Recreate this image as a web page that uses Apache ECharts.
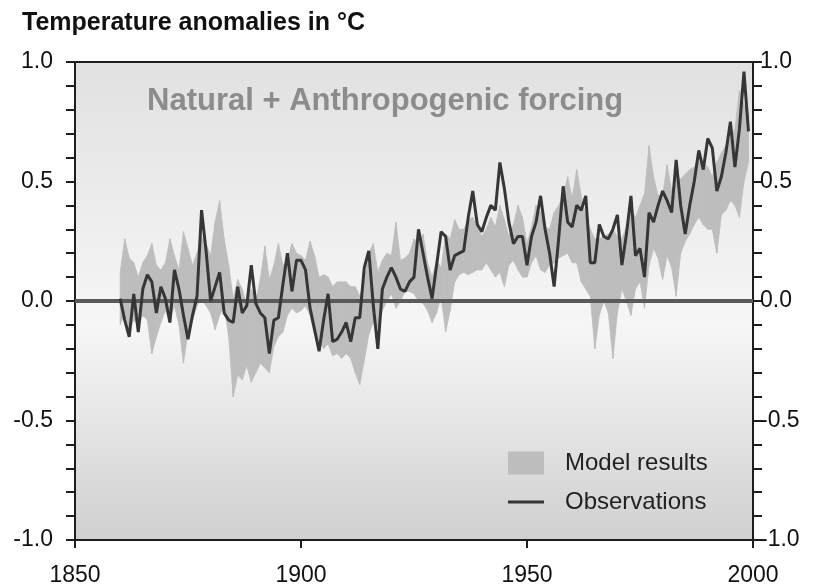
<!DOCTYPE html>
<html>
<head>
<meta charset="utf-8">
<script src="https://cdn.jsdelivr.net/npm/echarts@6/dist/echarts.min.js"></script>
<style>
  html, body { margin: 0; padding: 0; background: #ffffff; }
  #chart { width: 817px; height: 587px; }
</style>
</head>
<body>
<div id="chart"></div>
<script>
// Global mean temperature anomalies (°C), annual values from 1860 to 1999
const firstYear = 1860;

const observations = [
   0.01, -0.08, -0.15,  0.03, -0.13,  0.05,  0.11,  0.08, -0.05,  0.06,   // 1860s
   0.01, -0.09,  0.13,  0.05, -0.06, -0.16, -0.06,  0.02,  0.38,  0.21,   // 1870s
   0.00,  0.06,  0.12, -0.05, -0.08, -0.09,  0.06, -0.05, -0.02,  0.15,   // 1880s
  -0.01, -0.05, -0.07, -0.22, -0.08, -0.07,  0.07,  0.20,  0.04,  0.17,   // 1890s
   0.17,  0.13, -0.03, -0.12, -0.21, -0.08,  0.03, -0.17, -0.16, -0.13,   // 1900s
  -0.09, -0.17, -0.07, -0.07,  0.14,  0.21, -0.02, -0.20,  0.05,  0.10,   // 1910s
   0.14,  0.10,  0.05,  0.04,  0.08,  0.10,  0.30,  0.20,  0.10,  0.01,   // 1920s
   0.15,  0.29,  0.27,  0.13,  0.19,  0.20,  0.21,  0.35,  0.46,  0.32,   // 1930s
   0.29,  0.35,  0.40,  0.38,  0.58,  0.47,  0.33,  0.24,  0.27,  0.27,   // 1940s
   0.15,  0.27,  0.33,  0.44,  0.30,  0.20,  0.06,  0.26,  0.48,  0.33,   // 1950s
   0.31,  0.40,  0.38,  0.44,  0.16,  0.16,  0.32,  0.27,  0.26,  0.30,   // 1960s
   0.36,  0.15,  0.28,  0.44,  0.19,  0.22,  0.10,  0.37,  0.33,  0.40,   // 1970s
   0.46,  0.42,  0.37,  0.59,  0.40,  0.28,  0.40,  0.50,  0.63,  0.55,   // 1980s
   0.68,  0.64,  0.46,  0.52,  0.62,  0.75,  0.56,  0.72,  0.96,  0.71    // 1990s
];

// Spread of the model ensemble (natural + anthropogenic forcing)
const modelLow = [
  -0.10, -0.05, -0.12, -0.08, -0.10, -0.06, -0.08, -0.22, -0.15, -0.09,
  -0.04, -0.08, -0.02, -0.10, -0.26, -0.13, -0.08, -0.02,  0.01, -0.02,
  -0.05, -0.12, -0.06, -0.02, -0.15, -0.40, -0.31, -0.33, -0.27, -0.34,
  -0.30, -0.26, -0.28, -0.30, -0.19, -0.15, -0.13, -0.06, -0.03, -0.05,
  -0.04, -0.02, -0.06, -0.14, -0.17, -0.20, -0.18, -0.23, -0.22, -0.24,
  -0.22, -0.24, -0.30, -0.35, -0.25, -0.14, -0.09, -0.11, -0.04,  0.00,
   0.03, -0.03,  0.00,  0.04,  0.04,  0.03,  0.00, -0.01, -0.04, -0.09,
  -0.05,  0.02, -0.13, -0.04,  0.08,  0.11,  0.12,  0.11,  0.12,  0.13,
   0.13,  0.16,  0.13,  0.10,  0.12,  0.06,  0.15,  0.17,  0.13,  0.10,
   0.10,  0.16,  0.19,  0.13,  0.12,  0.15,  0.16,  0.18,  0.19,  0.20,
   0.16,  0.16,  0.08,  0.05,  0.02, -0.20, -0.06,  0.00, -0.05, -0.24,
  -0.05,  0.05,  0.00, -0.06,  0.05,  0.08, -0.03,  0.15,  0.22,  0.18,
   0.09,  0.19,  0.14,  0.02,  0.20,  0.25,  0.28,  0.32,  0.35,  0.32,
   0.30,  0.30,  0.20,  0.36,  0.38,  0.42,  0.40,  0.35,  0.50,  0.58
];

const modelHigh = [
   0.12,  0.26,  0.18,  0.16,  0.10,  0.16,  0.19,  0.24,  0.15,  0.13,
   0.16,  0.26,  0.19,  0.13,  0.29,  0.22,  0.15,  0.20,  0.27,  0.24,
   0.19,  0.33,  0.42,  0.26,  0.15,  0.01,  0.09,  0.05, -0.02,  0.05,
   0.00,  0.09,  0.23,  0.09,  0.15,  0.24,  0.15,  0.17,  0.24,  0.20,
   0.19,  0.17,  0.25,  0.19,  0.10,  0.11,  0.10,  0.06,  0.08,  0.08,
   0.08,  0.06,  0.06,  0.02,  0.08,  0.20,  0.24,  0.12,  0.17,  0.20,
   0.19,  0.33,  0.17,  0.18,  0.20,  0.26,  0.24,  0.28,  0.16,  0.10,
   0.17,  0.14,  0.28,  0.26,  0.34,  0.30,  0.30,  0.34,  0.35,  0.31,
   0.27,  0.30,  0.35,  0.31,  0.40,  0.34,  0.27,  0.32,  0.40,  0.35,
   0.24,  0.31,  0.40,  0.37,  0.31,  0.30,  0.37,  0.40,  0.44,  0.52,
   0.43,  0.55,  0.44,  0.35,  0.30,  0.26,  0.26,  0.27,  0.28,  0.30,
   0.27,  0.26,  0.31,  0.38,  0.35,  0.40,  0.45,  0.65,  0.52,  0.44,
   0.44,  0.57,  0.46,  0.52,  0.51,  0.53,  0.55,  0.56,  0.58,  0.58,
   0.56,  0.52,  0.58,  0.62,  0.65,  0.68,  0.72,  0.88,  0.82,  0.78
];

const years = observations.map((_, i) => firstYear + i);
const yearTicks = [1850, 1900, 1950, 2000];
const anomalyTicks = [-1.0, -0.5, 0.0, 0.5, 1.0];

const sans = "'Liberation Sans', Arial, sans-serif";
const inkColor = '#1e1e1e';
const bandColor = '#bdbdbd';

const obsData = years.map((y, i) => [y, observations[i]]);
// each item: year, low, high — one band segment is drawn from an item to the next
const bandData = years.map((y, i) => [y, modelLow[i], modelHigh[i]]);

function renderBandSegment(params, api) {
  const i = params.dataIndex;
  if (i >= bandData.length - 1) return null;
  const a = bandData[i], b = bandData[i + 1];
  const pts = [
    api.coord([a[0], a[1]]),
    api.coord([a[0], a[2]]),
    api.coord([b[0], b[2]]),
    api.coord([b[0], b[1]])
  ];
  return {
    type: 'polygon',
    shape: { points: pts },
    style: { fill: bandColor, stroke: bandColor, lineWidth: 0.8 },
    silent: true
  };
}

function yAxisFor(position, margin) {
  return {
    type: 'value',
    position: position,
    min: anomalyTicks[0],
    max: anomalyTicks[anomalyTicks.length - 1],
    interval: 0.5,
    axisLine: { show: true, onZero: false, lineStyle: { color: inkColor, width: 2 } },
    axisTick: { show: true, length: 9, lineStyle: { color: inkColor, width: 2 } },
    minorTick: { show: true, splitNumber: 5, length: 9, lineStyle: { color: inkColor, width: 2 } },
    splitLine: { show: false },
    axisLabel: {
      margin: margin,
      color: '#111',
      fontFamily: sans,
      fontSize: 23,
      formatter: v => v.toFixed(1)
    }
  };
}

const chart = echarts.init(document.getElementById('chart'), null, { renderer: 'canvas' });

chart.setOption({
  animation: false,
  backgroundColor: '#ffffff',
  title: [
    {
      text: 'Temperature anomalies in °C',
      left: 17, top: 6,
      textStyle: { fontFamily: sans, fontWeight: 'bold', fontSize: 25, color: '#111' }
    },
    {
      text: 'Natural + Anthropogenic forcing',
      left: 142, top: 81,
      textStyle: { fontFamily: sans, fontWeight: 'bold', fontSize: 31, color: '#8c8c8c' }
    }
  ],
  grid: {
    left: 75, right: 64, top: 62, bottom: 46,
    show: true,
    borderWidth: 2,
    borderColor: inkColor,
    backgroundColor: {
      type: 'linear', x: 0, y: 0, x2: 0, y2: 1,
      colorStops: [
        { offset: 0, color: '#e1e1e1' },
        { offset: 0.55, color: '#f6f6f6' },
        { offset: 1, color: '#d0d0d0' }
      ]
    }
  },
  legend: {
    orient: 'vertical',
    left: 503, top: 446,
    itemWidth: 36, itemHeight: 23, itemGap: 15,
    selectedMode: false,
    textStyle: { fontFamily: sans, fontSize: 24, color: '#222', padding: [0, 0, 0, 16] },
    data: [
      { name: 'Model results', icon: 'rect', itemStyle: { color: bandColor } },
      { name: 'Observations', icon: 'path://M0 0H36V3H0Z' }
    ]
  },
  xAxis: {
    type: 'value',
    min: yearTicks[0],
    max: yearTicks[yearTicks.length - 1],
    interval: 50,
    axisLine: { show: true, onZero: false, lineStyle: { color: inkColor, width: 2 } },
    axisTick: { show: true, length: 8, lineStyle: { color: inkColor, width: 2 } },
    splitLine: { show: false },
    axisLabel: { margin: 24, color: '#111', fontFamily: sans, fontSize: 23, formatter: v => String(v) }
  },
  yAxis: [yAxisFor('left', 22), yAxisFor('right', 7)],
  series: [
    {
      name: 'Model results',
      type: 'custom',
      renderItem: renderBandSegment,
      data: bandData,
      encode: { x: 0, y: [1, 2] },
      color: bandColor,
      silent: true,
      z: 2,
      markLine: {
        silent: true,
        symbol: ['none', 'none'],
        label: { show: false },
        lineStyle: { color: '#5a5a5a', width: 4, type: 'solid' },
        data: [{ yAxis: 0 }]
      }
    },
    {
      name: 'Observations',
      type: 'line',
      data: obsData,
      symbol: 'none',
      color: '#363636',
      lineStyle: { width: 3, color: '#363636' },
      z: 6
    }
  ]
});
</script>
</body>
</html>
